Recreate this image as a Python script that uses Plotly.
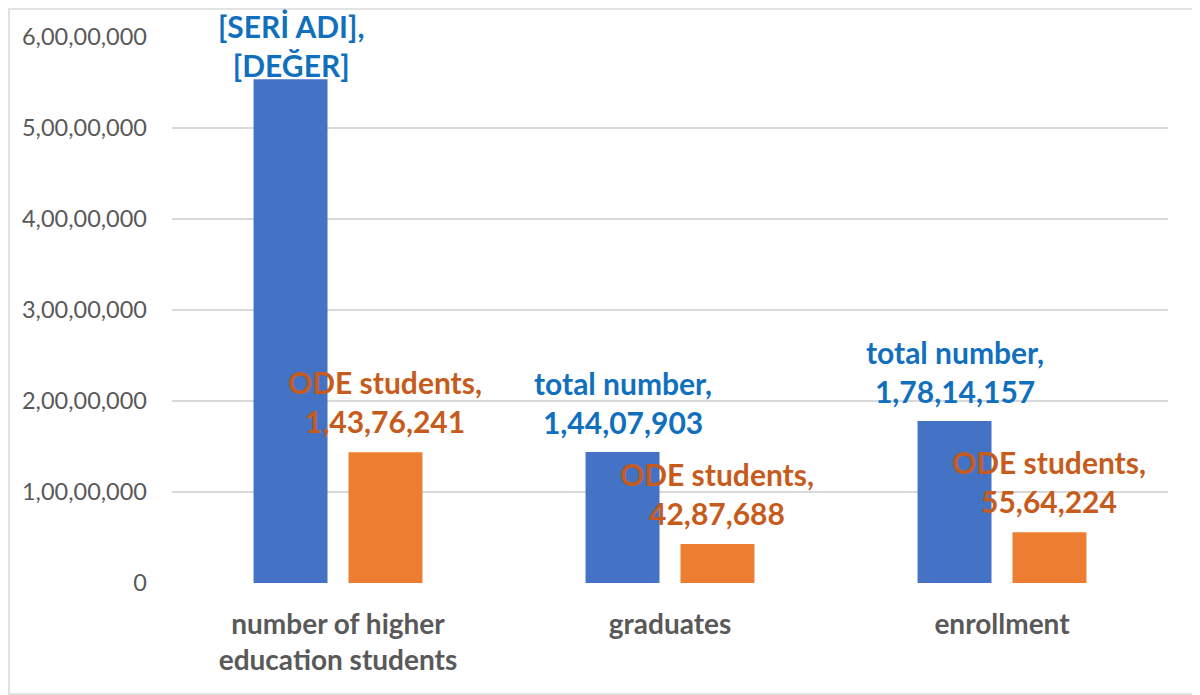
import plotly.graph_objects as go

# --------------------------------------------------
# DATA
# --------------------------------------------------

categories = ["number of higher<br>education students", "graduates", "enrollment"]
total_number = [55350000, 14407903, 17814157]
ode_students = [14376241, 4287688, 5564224]

total_labels = ["[SERİ ADI],<br>[DEĞER]", "total number,<br>1,44,07,903", "total number,<br>1,78,14,157"]
ode_labels = ["ODE students,<br>1,43,76,241", "ODE students,<br>42,87,688", "ODE students,<br>55,64,224"]

tick_vals = [0, 10000000, 20000000, 30000000, 40000000, 50000000, 60000000]
tick_text = ["0", "1,00,00,000", "2,00,00,000", "3,00,00,000", "4,00,00,000", "5,00,00,000", "6,00,00,000"]

BLUE = "#4472C4"
ORANGE = "#ED7D31"
BLUE_TXT = "#1170BD"
ORANGE_TXT = "#C65B1C"
FONT = "Lato"

# the page puts the plot 8px in from the top left corner
OFF = 8

# --------------------------------------------------
# FIGURE
# --------------------------------------------------

fig = go.Figure()

fig.add_trace(go.Bar(x=categories, y=total_number, name="total number",
                     marker=dict(color=BLUE, line=dict(width=0))))
fig.add_trace(go.Bar(x=categories, y=ode_students, name="ODE students",
                     marker=dict(color=ORANGE, line=dict(width=0))))

# data labels (Excel style, sitting above the bars)
blue_shift = [-6, 10, 10]
for cat, val, txt, ys in zip(categories, total_number, total_labels, blue_shift):
    fig.add_annotation(x=cat, y=val, text=txt, xref="x", yref="y",
                       xshift=-47, yshift=ys, yanchor="bottom", showarrow=False,
                       font=dict(family=FONT, size=30, color=BLUE_TXT, weight="bold"),
                       align="center")

for cat, val, txt in zip(categories, ode_students, ode_labels):
    fig.add_annotation(x=cat, y=val, text=txt, xref="x", yref="y",
                       xshift=47, yshift=11, yanchor="bottom", showarrow=False,
                       font=dict(family=FONT, size=30, color=ORANGE_TXT, weight="bold"),
                       align="center")

# chart border
fig.add_shape(type="rect", xref="paper", yref="paper",
              x0=(9 - 172) / 996, x1=(1199 - 172) / 996,
              y0=-(694 - 583) / 546, y1=1 + (37 - 9) / 546,
              line=dict(color="#D9D9D9", width=1.5), layer="below")

fig.update_layout(
    width=1200 - OFF, height=695 - OFF,
    margin=dict(l=172 - OFF, r=32, t=37 - OFF, b=112),
    paper_bgcolor="white", plot_bgcolor="white",
    barmode="group", bargap=0.428, bargroupgap=0.221,
    showlegend=False,
    font=dict(family=FONT),
    xaxis=dict(
        showgrid=False, showline=False, ticks="",
        ticklabelstandoff=22,
        tickfont=dict(family=FONT, size=28, color="#595959", weight="bold"),
    ),
    yaxis=dict(
        range=[0, 60000000], tickvals=tick_vals, ticktext=tick_text,
        showgrid=True, gridcolor="#D9D9D9", gridwidth=1.5,
        zeroline=False, showline=False, ticks="", ticklen=0,
        ticklabelstandoff=24,
        tickfont=dict(family=FONT, size=23.5, color="#595959"),
    ),
)

fig.write_html("out.html")
